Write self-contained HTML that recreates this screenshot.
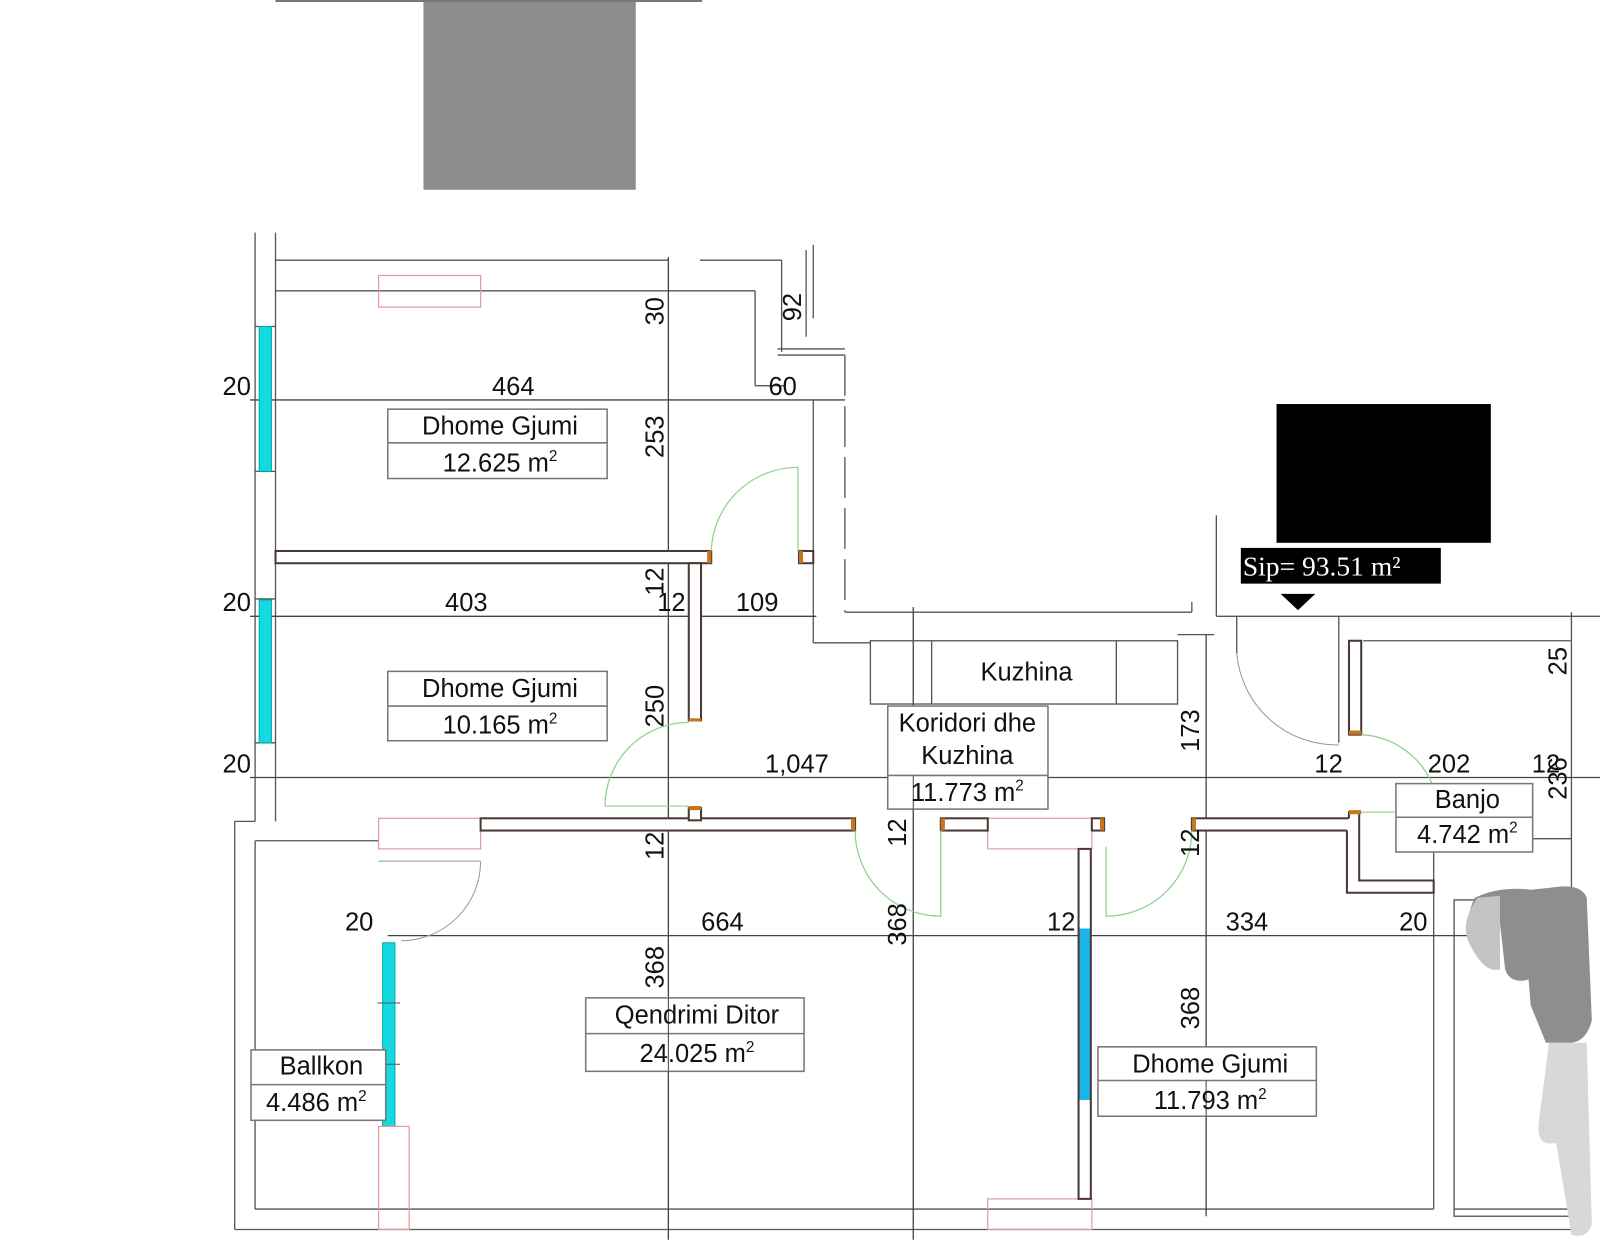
<!DOCTYPE html>
<html><head><meta charset="utf-8">
<style>
html,body{margin:0;padding:0;background:#fff;}
svg{display:block;}
text{font-family:"Liberation Sans",sans-serif;fill:#111;}
text.serif{font-family:"Liberation Serif",serif;fill:#fff;}
</style></head>
<body>
<svg width="1600" height="1255" viewBox="0 0 1568 1230" preserveAspectRatio="none" xmlns="http://www.w3.org/2000/svg">
<rect width="1568" height="1230" fill="#fff"/>
<rect x="415" y="0" width="208" height="186" fill="#8c8c8c"/>
<line x1="270" y1="1" x2="688" y2="1" stroke="#777" stroke-width="2"/>

<g stroke="#555" stroke-width="1.3" fill="none">
  <line x1="250" y1="228" x2="250" y2="805"/>
  <line x1="270" y1="228" x2="270" y2="805"/>
  <line x1="250" y1="320" x2="270" y2="320"/><line x1="250" y1="462" x2="270" y2="462"/>
  <line x1="250" y1="587" x2="270" y2="587"/><line x1="250" y1="728" x2="270" y2="728"/>
  <line x1="270" y1="255" x2="655" y2="255"/>
  <line x1="270" y1="285" x2="740" y2="285"/>
  <line x1="740" y1="285" x2="740" y2="378"/>
  <line x1="740" y1="378" x2="770" y2="378"/>
  <line x1="686" y1="255" x2="766" y2="255"/>
  <line x1="766" y1="255" x2="766" y2="345"/>
  <line x1="762" y1="342" x2="828" y2="342"/>
  <line x1="762" y1="348" x2="828" y2="348"/>
  <line x1="790" y1="245" x2="790" y2="330"/>
  <line x1="797" y1="240" x2="797" y2="312"/>
  <line x1="797" y1="392" x2="797" y2="630"/>
  <line x1="828" y1="348" x2="828" y2="600" stroke-dasharray="40,10"/>
  <line x1="828" y1="600" x2="1168" y2="600"/>
  <line x1="1168" y1="590" x2="1168" y2="600"/>
  <line x1="797" y1="630" x2="853" y2="630"/>
  <line x1="1154" y1="622" x2="1190" y2="622"/>
  <line x1="1192" y1="505" x2="1192" y2="604"/>
  <line x1="1192" y1="604" x2="1568" y2="604"/>
  <line x1="1212" y1="604" x2="1212" y2="640"/>
  <line x1="1312" y1="604" x2="1312" y2="728"/>
  <line x1="1336" y1="628" x2="1540" y2="628"/>
  <line x1="1540" y1="600" x2="1540" y2="1205"/>
  <line x1="1405" y1="822" x2="1540" y2="822"/>
  <line x1="1405" y1="822" x2="1405" y2="863"/>
  <line x1="230" y1="805" x2="250" y2="805"/>
  <line x1="230" y1="805" x2="230" y2="1205"/>
  <line x1="230" y1="1205" x2="1545" y2="1205"/>
  <line x1="250" y1="824" x2="371" y2="824"/>
  <line x1="250" y1="824" x2="250" y2="1185"/>
  <line x1="250" y1="1185" x2="1405" y2="1185"/>
  <line x1="1405" y1="875" x2="1405" y2="1185"/>
  <rect x="1425" y="882" width="115" height="310"/>
  <line x1="1425" y1="1185" x2="1540" y2="1185"/>
  <line x1="245" y1="392" x2="828" y2="392" stroke="#444"/>
  <line x1="245" y1="604" x2="800" y2="604" stroke="#444"/>
  <line x1="245" y1="762" x2="1568" y2="762" stroke="#444"/>
  <line x1="380" y1="917" x2="1440" y2="917" stroke="#444"/>
  <line x1="655" y1="252" x2="655" y2="1215" stroke="#444"/>
  <line x1="895" y1="595" x2="895" y2="1215" stroke="#444"/>
  <line x1="1182" y1="622" x2="1182" y2="1192" stroke="#444"/>
  <rect x="853" y="628" width="301" height="62"/>
  <line x1="913" y1="628" x2="913" y2="690"/>
  <line x1="1094" y1="628" x2="1094" y2="690"/>
</g>

<rect x="254" y="320" width="12" height="142" fill="#14d9e0" stroke="#0aa" stroke-width="1"/>
<rect x="254" y="588" width="12" height="140" fill="#14d9e0" stroke="#0aa" stroke-width="1"/>
<rect x="375" y="924" width="12" height="180" fill="#14d9e0" stroke="#0aa" stroke-width="1"/>
<line x1="370" y1="983" x2="392" y2="983" stroke="#555"/><line x1="370" y1="1043" x2="392" y2="1043" stroke="#555"/>
<rect x="1057" y="910" width="12" height="168" fill="#1ab4e8"/>

<g stroke="#e59a9a" stroke-width="1.2" fill="none">
  <rect x="371" y="270" width="100" height="31"/>
  <rect x="371" y="802" width="100" height="30"/>
  <rect x="968" y="802" width="102" height="30"/>
  <rect x="968" y="1175" width="102" height="30"/>
  <rect x="371" y="1104" width="30" height="101"/>
</g>

<g stroke="#4a3a36" stroke-width="2" fill="#fff">
  <rect x="270" y="540" width="427" height="12"/>
  <rect x="675" y="552" width="12" height="154"/>
  <rect x="471" y="802" width="367" height="12"/>
  <rect x="922" y="802" width="46" height="12"/>
  <rect x="1070" y="802" width="12" height="12"/>
  <rect x="1168" y="802" width="162" height="12"/>
  <polyline points="1320,814 1320,875 1405,875 1405,863 1332,863 1332,796 1322,796 1322,802" />
  <rect x="1322" y="628" width="12" height="92"/>
  <rect x="783" y="540" width="14" height="12"/>
  <rect x="675" y="792" width="12" height="12"/>
  <rect x="1057" y="832" width="12" height="343" fill="none"/>
</g>
<g fill="#c8741c">
  <rect x="693" y="540" width="4" height="12"/><rect x="783" y="540" width="4" height="12"/>
  <rect x="675" y="704" width="12" height="3"/><rect x="834" y="802" width="4" height="12"/>
  <rect x="922" y="802" width="4" height="12"/><rect x="1078" y="802" width="4" height="12"/>
  <rect x="1168" y="802" width="4" height="12"/><rect x="1322" y="716" width="12" height="4"/>
  <rect x="1322" y="794" width="12" height="4"/><rect x="675" y="790" width="12" height="4"/>
</g>

<g stroke="#8fd08f" stroke-width="1.2" fill="none">
  <path d="M697 540 A85 85 0 0 1 782 458 L782 540"/>
  <path d="M675 790 L593 790 A82 82 0 0 1 675 708"/>
  <path d="M838 814 A84 84 0 0 0 922 898 L922 814"/>
  <path d="M1168 814 A84 84 0 0 1 1084 898 L1084 830"/>
  <path d="M1334 720 A80 80 0 0 1 1410 796 L1334 796"/>
</g>
<path d="M1212 640 A98 98 0 0 0 1312 730" stroke="#999" fill="none"/>
<path d="M471 844 A78 78 0 0 1 393 922" stroke="#999" fill="none"/>
<line x1="371" y1="844" x2="471" y2="844" stroke="#999"/>

<g stroke="#777" stroke-width="1.5" fill="#fff">
  <rect x="380" y="401" width="215" height="68"/><line x1="380" y1="434" x2="595" y2="434"/>
  <rect x="380" y="658" width="215" height="68"/><line x1="380" y1="692" x2="595" y2="692"/>
  <rect x="870" y="692" width="157" height="101"/><line x1="870" y1="760" x2="1027" y2="760"/>
  <rect x="574" y="978" width="214" height="72"/><line x1="574" y1="1013" x2="788" y2="1013"/>
  <rect x="1076" y="1026" width="214" height="68"/><line x1="1076" y1="1059" x2="1290" y2="1059"/>
  <rect x="1368" y="768" width="134" height="67"/><line x1="1368" y1="801" x2="1502" y2="801"/>
  <rect x="246" y="1029" width="132" height="69"/><line x1="246" y1="1063" x2="378" y2="1063"/>
</g>
<line x1="655" y1="978" x2="655" y2="1050" stroke="#444"/>
<line x1="895" y1="760" x2="895" y2="793" stroke="#444"/>
<line x1="1182" y1="1059" x2="1182" y2="1094" stroke="#444"/>

<g font-size="25" text-anchor="middle">
  <text x="490" y="426">Dhome Gjumi</text><text x="490" y="462">12.625 m<tspan font-size="15" dy="-10">2</tspan></text>
  <text x="490" y="683">Dhome Gjumi</text><text x="490" y="719">10.165 m<tspan font-size="15" dy="-10">2</tspan></text>
  <text x="1006" y="667">Kuzhina</text>
  <text x="948" y="717">Koridori dhe</text><text x="948" y="749">Kuzhina</text><text x="948" y="785">11.773 m<tspan font-size="15" dy="-10">2</tspan></text>
  <text x="683" y="1003">Qendrimi Ditor</text><text x="683" y="1041">24.025 m<tspan font-size="15" dy="-10">2</tspan></text>
  <text x="1186" y="1051">Dhome Gjumi</text><text x="1186" y="1087">11.793 m<tspan font-size="15" dy="-10">2</tspan></text>
  <text x="1438" y="792">Banjo</text><text x="1438" y="826">4.742 m<tspan font-size="15" dy="-10">2</tspan></text>
  <text x="315" y="1053">Ballkon</text><text x="310" y="1089">4.486 m<tspan font-size="15" dy="-10">2</tspan></text>
  <text x="232" y="387">20</text><text x="503" y="387">464</text><text x="767" y="387">60</text>
  <text x="232" y="599">20</text><text x="457" y="599">403</text><text x="658" y="599">12</text><text x="742" y="599">109</text>
  <text x="232" y="757">20</text><text x="781" y="757">1,047</text><text x="1302" y="757">12</text><text x="1420" y="757">202</text><text x="1515" y="757">12</text>
  <text x="352" y="912">20</text><text x="708" y="912">664</text><text x="1040" y="912">12</text><text x="1222" y="912">334</text><text x="1385" y="912">20</text>
</g>
<g font-size="25" text-anchor="middle">
  <text transform="translate(650,305) rotate(-90)">30</text>
  <text transform="translate(650,428) rotate(-90)">253</text>
  <text transform="translate(650,570) rotate(-90)">12</text>
  <text transform="translate(650,692) rotate(-90)">250</text>
  <text transform="translate(650,829) rotate(-90)">12</text>
  <text transform="translate(650,948) rotate(-90)">368</text>
  <text transform="translate(888,816) rotate(-90)">12</text>
  <text transform="translate(888,906) rotate(-90)">368</text>
  <text transform="translate(1175,716) rotate(-90)">173</text>
  <text transform="translate(1175,826) rotate(-90)">12</text>
  <text transform="translate(1175,988) rotate(-90)">368</text>
  <text transform="translate(785,301) rotate(-90)">92</text>
  <text transform="translate(1535,648) rotate(-90)">25</text>
  <text transform="translate(1535,763) rotate(-90)">236</text>
</g>

<rect x="1251" y="396" width="210" height="136" fill="#000"/>
<rect x="1216" y="537" width="196" height="35" fill="#000"/>
<text class="serif" x="1218" y="564" font-size="27">Sip= 93.51 m²</text>
<polygon points="1255,582 1289,582 1272,598" fill="#000"/>

<path d="M1445 880 Q1470 868 1500 872 L1520 870 Q1550 865 1555 880 L1560 1000 Q1555 1020 1540 1022 L1515 1022 L1500 985 L1498 960 Q1480 965 1475 950 L1470 905 L1450 925 Q1430 915 1445 880Z" fill="#8e8e8e"/>
<path d="M1448 880 L1470 878 L1470 950 Q1455 955 1440 925 Q1430 905 1448 880Z" fill="#c4c4c4"/>
<path d="M1518 1022 L1555 1022 L1560 1200 Q1555 1215 1540 1210 L1525 1120 Q1505 1125 1508 1100 Z" fill="#d8d8d8"/>
</svg>
</body></html>
